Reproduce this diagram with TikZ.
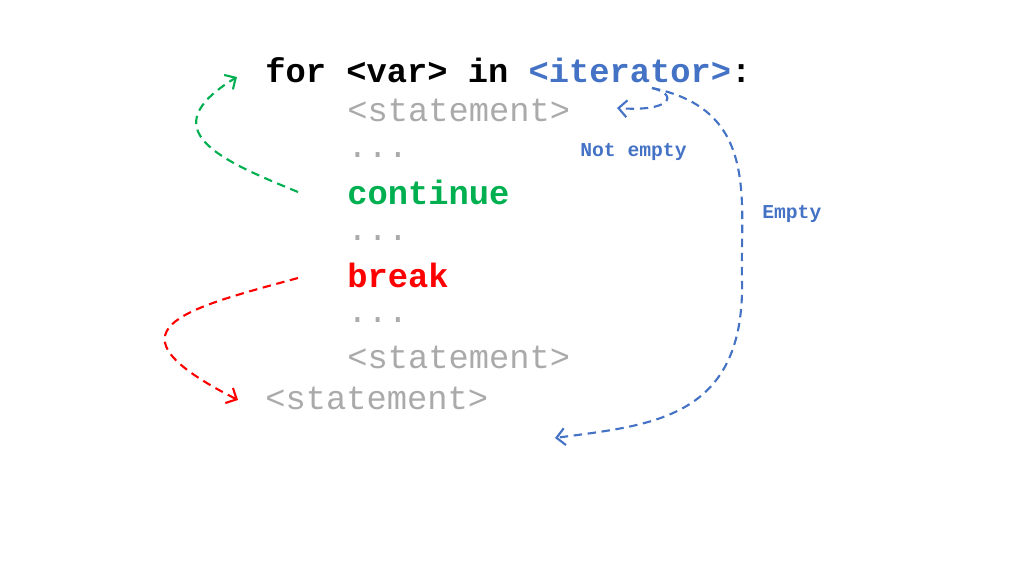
\documentclass[tikz,border=0pt]{standalone}
\usepackage{fontspec}
\setmainfont{Liberation Mono}
\usetikzlibrary{positioning, arrows.meta}
\definecolor{iterblue}{RGB}{68,114,196}
\definecolor{stmtgray}{RGB}{170,170,170}
\definecolor{contgreen}{RGB}{0,176,80}
\tikzset{
  code/.style={anchor=west, inner sep=0pt, font=\fontsize{24}{28}\selectfont},
  flow/.style={dash pattern=on 6pt off 4pt, line width=1.5pt, -{Straight Barb[length=6pt]}},
  lab/.style={inner sep=0pt, text=iterblue, font=\bfseries\fontsize{14}{16}\selectfont}
}
\begin{document}
\begin{tikzpicture}[x=0.025cm, y=-0.025cm]
\useasboundingbox (0,0) rectangle (1024,572);
\node[code, font=\bfseries\fontsize{24}{28}\selectfont] (head) at (265,70) {for <var> in \textcolor{iterblue}{<iterator>}:};
\node[code, text=stmtgray] (stmtA) at (347,110) {<statement>};
\node[code, text=stmtgray] (dotsA) at (347,155) {...};
\node[code, text=contgreen, font=\bfseries\fontsize{24}{28}\selectfont] (cont) at (347,192) {continue};
\node[code, text=stmtgray] (dotsB) at (347,238) {...};
\node[code, text=red, font=\bfseries\fontsize{24}{28}\selectfont] (brk) at (347,275) {break};
\node[code, text=stmtgray] (dotsC) at (347,320) {...};
\node[code, text=stmtgray] (stmtB) at (347,357) {<statement>};
\node[code, text=stmtgray] (after) at (265,398) {<statement>};
\node[lab, anchor=west] (notempty) at (580,152) {Not empty};
\node[lab, anchor=west] (empty) at (762,214) {Empty};

\coordinate (iter) at (652,88);
\coordinate (loopin) at (617,108);
\coordinate (exit) at (555,438);
\coordinate (topback) at (237,77);
\coordinate (contout) at (298,192);
\coordinate (brkout) at (298,278);
\coordinate (brkin) at (238,400);

\draw[flow, contgreen] (contout) .. controls (220,160) and (150,130) .. (topback);
\draw[flow, iterblue] (iter) .. controls (680,95) and (670,112) .. (loopin);
\draw[flow, iterblue] (iter) .. controls (760,110) and (740,200) .. (742,280) .. controls (745,420) and (650,425) .. (exit);
\draw[flow, red] (brkout) .. controls (180,310) and (100,330) .. (brkin);
\end{tikzpicture}
\end{document}
